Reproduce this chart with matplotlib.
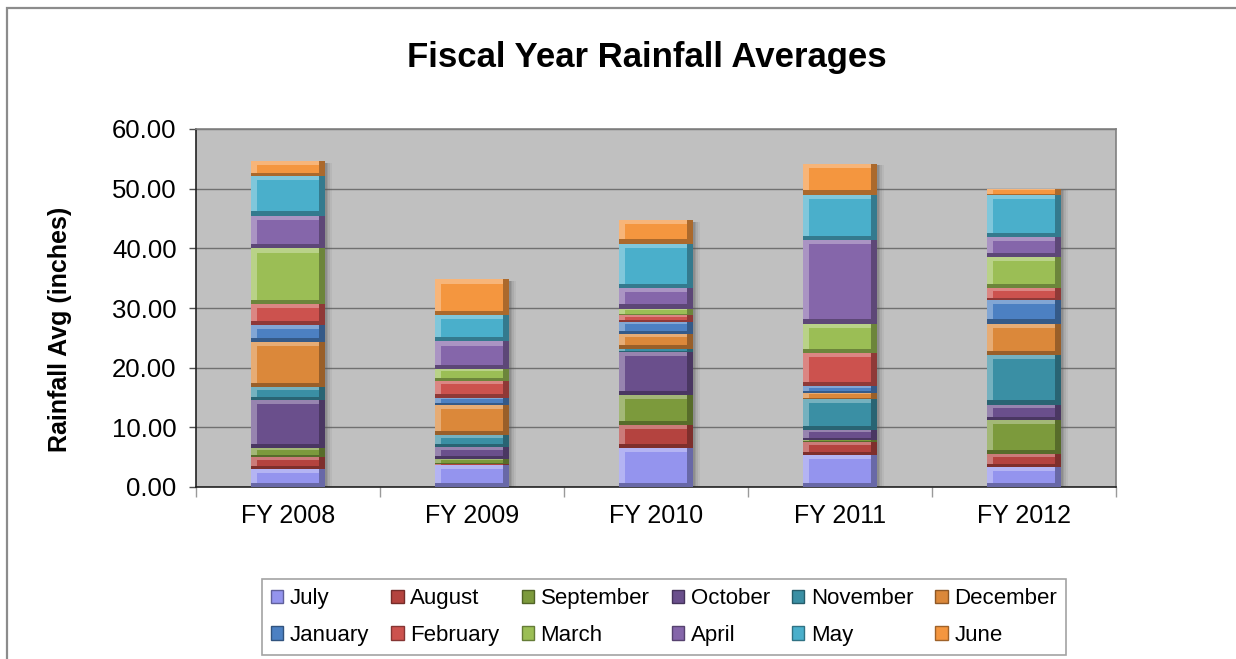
#!/usr/bin/env python3
"""Stacked monthly rainfall by fiscal year, Excel-style bevelled bars."""
import matplotlib
matplotlib.use("Agg")
import matplotlib.pyplot as plt
import matplotlib.patches as mpatches
from matplotlib.colors import to_rgb
import numpy as np

plt.rcParams["font.family"] = ["Liberation Sans", "DejaVu Sans"]

YEARS = ["FY 2008", "FY 2009", "FY 2010", "FY 2011", "FY 2012"]
MONTHS = ["July", "August", "September", "October", "November", "December",
          "January", "February", "March", "April", "May", "June"]

# monthly rainfall (inches), one list per month across the five fiscal years
JULY      = [3.0, 3.7, 6.5, 5.4, 3.4]
AUGUST    = [2.0, 0.2, 3.9, 2.2, 2.1]
SEPTEMBER = [1.5, 0.8, 5.0, 0.3, 5.7]
OCTOBER   = [8.1, 2.0, 7.3, 1.6, 2.6]
NOVEMBER  = [2.2, 2.0, 0.5, 5.2, 8.3]
DECEMBER  = [7.5, 5.1, 2.4, 1.1, 5.3]
JANUARY   = [2.8, 1.2, 2.1, 1.1, 3.9]
FEBRUARY  = [3.6, 2.8, 1.1, 5.6, 2.0]
MARCH     = [9.3, 2.0, 1.1, 4.9, 5.3]
APRIL     = [5.5, 4.6, 3.5, 14.0, 3.3]
MAY       = [6.6, 4.4, 7.4, 7.6, 7.0]
JUNE      = [2.5, 6.0, 3.9, 5.2, 1.1]
SERIES = [JULY, AUGUST, SEPTEMBER, OCTOBER, NOVEMBER, DECEMBER,
          JANUARY, FEBRUARY, MARCH, APRIL, MAY, JUNE]

COLORS = ["#9494EE", "#B4433F", "#7C9A3C", "#6A4F8C", "#3A8FA4", "#DB883A",
          "#4C80C2", "#CC524E", "#9BBE55", "#8566AA", "#4AAFCB", "#F4963F"]

PLOT_BG = "#C0C0C0"
GRID = "#707070"
AXIS = "#505050"


def mix(c, other, f):
    a = np.array(to_rgb(c))
    b = np.array(to_rgb(other))
    return tuple(a * (1 - f) + b * f)


fig = plt.figure(figsize=(12.36, 6.59), dpi=100)
ax = fig.add_axes([196 / 1236, 1 - 487 / 659, 920 / 1236, 358 / 659])
ax.set_facecolor(PLOT_BG)

# chart frame (top and left edges only in view)
fig.add_artist(mpatches.Rectangle((7 / 1236, -0.1), 1.2, 1 - 8 / 659 + 0.1,
                                  transform=fig.transFigure, fill=False,
                                  ec="#8C8C8C", lw=1.6))

x = np.arange(len(YEARS))
W = 0.40
DX = 0.03
data = np.array(SERIES, dtype=float)
totals = data.sum(axis=0)

# soft drop shadow behind each stack
for k, a in enumerate([0.08, 0.12, 0.16, 0.2]):
    ax.bar(x + 0.01 + 0.01 * (3 - k), totals, width=W, bottom=-0.3,
           color="#555555", alpha=a, lw=0, zorder=2)

bottom = np.zeros(len(YEARS))
for vals, c in zip(data, COLORS):
    inset = np.minimum(0.7, vals * 0.22)
    ax.bar(x, vals, width=W, bottom=bottom, color=mix(c, "black", 0.3),
           lw=0, zorder=3)
    ax.bar(x - DX / 2, vals - inset, width=W - DX, bottom=bottom + inset,
           color=mix(c, "white", 0.3), lw=0, zorder=3)
    ax.bar(x, vals - 2 * inset, width=W - 2 * DX, bottom=bottom + inset,
           color=c, lw=0, zorder=3)
    bottom += vals

ax.set_xlim(-0.5, len(YEARS) - 0.5)
ax.set_ylim(0, 60)
ax.set_yticks(np.arange(0, 61, 10))
ax.set_yticklabels([f"{v:.2f}" for v in np.arange(0, 61, 10)])
ax.set_xticks(x)
ax.set_xticklabels(YEARS)
ax.set_xticks(np.arange(-0.5, len(YEARS), 1), minor=True)
ax.grid(axis="y", color=GRID, lw=1.0, zorder=1)
ax.set_axisbelow(True)

ax.tick_params(axis="y", labelsize=18.5, length=5, width=1, color=AXIS, pad=9)
ax.tick_params(axis="x", which="major", labelsize=18, length=0, pad=12)
ax.tick_params(axis="x", which="minor", length=7, width=1, color="#9A9A9A")

for side in ("left", "bottom"):
    ax.spines[side].set_color("#222222")
    ax.spines[side].set_linewidth(1.2)
for side in ("top", "right"):
    ax.spines[side].set_color("#808080")
    ax.spines[side].set_linewidth(1.2)

ax.set_ylabel("Rainfall Avg (inches)", fontsize=18, fontweight="bold")
ax.yaxis.set_label_coords(-0.135, 0.44)

fig.text(647 / 1236, 1 - 57 / 659, "Fiscal Year Rainfall Averages",
         ha="center", va="center", fontsize=25, fontweight="bold")

# legend: two rows of six, filled column by column
handles = [mpatches.Patch(facecolor=c, edgecolor=mix(c, "black", 0.35),
                          label=m) for m, c in zip(MONTHS, COLORS)]
order = [i + 6 * r for i in range(6) for r in range(2)]
leg = fig.legend([handles[i] for i in order], [MONTHS[i] for i in order],
                 ncol=6, loc="center", bbox_to_anchor=(664 / 1236, 1 - 617 / 659),
                 fontsize=16, frameon=True, fancybox=False, edgecolor="#8C8C8C",
                 handlelength=0.55, handleheight=0.55, handletextpad=0.3,
                 columnspacing=1.0, labelspacing=0.7, borderpad=0.4)
leg.get_frame().set_linewidth(1.2)

fig.savefig("out.png", dpi=100, facecolor="white")
